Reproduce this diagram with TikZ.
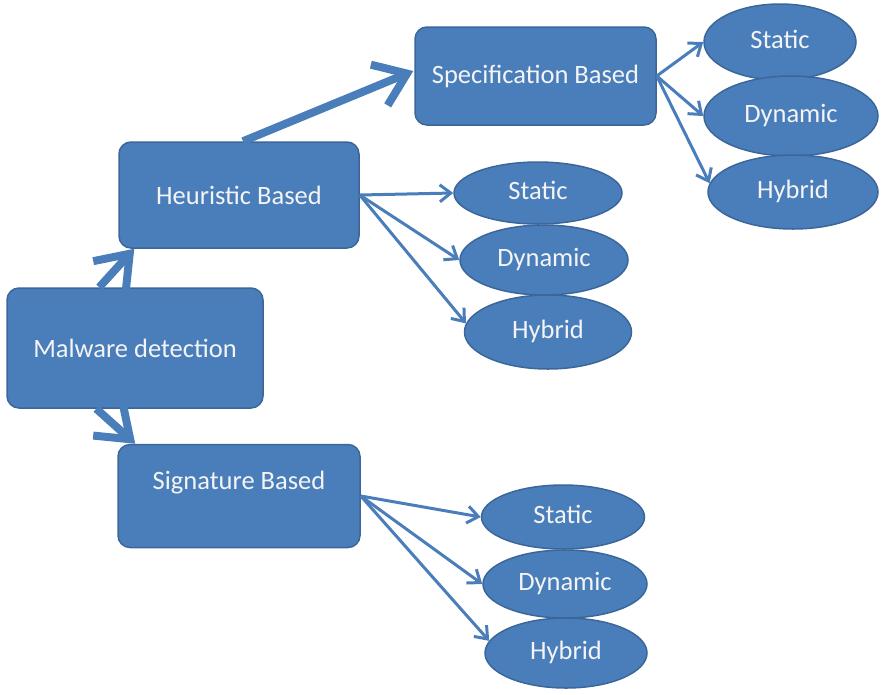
\documentclass[tikz,border=0pt]{standalone}
\usepackage{fontspec}
\setmainfont{Carlito}
\usetikzlibrary{arrows.meta,shapes.geometric,calc}
\definecolor{boxfill}{HTML}{4A7EBB}
\definecolor{boxline}{HTML}{3B6699}
\definecolor{linkblue}{HTML}{4A7EBB}
\definecolor{labeltext}{HTML}{F4F4F4}
\begin{document}
\begin{tikzpicture}[x=1pt,y=-1pt,
  labelfont/.style={font=\fontsize{26.5}{30}\selectfont, text=labeltext},
  box/.style={labelfont, draw=boxline, line width=1.5pt, fill=boxfill,
    rounded corners=12pt, inner sep=0pt},
  oval/.style={labelfont, ellipse, draw=boxline, line width=1.5pt, fill=boxfill,
    inner sep=0pt, text height=18pt, text depth=5pt},
  bigarrow/.style={draw=linkblue, line width=8pt,
    -{Straight Barb[length=30pt,width=44pt]}},
  smallarrow/.style={draw=linkblue, line width=3pt,
    -{Straight Barb[length=11pt,width=17pt]}},
]
\useasboundingbox (0,0) rectangle (882,694);

% main boxes
\node[box, minimum width=256pt, minimum height=120pt] (mal) at (135,348) {Malware detection};
\node[box, minimum width=240pt, minimum height=106pt] (heu) at (239,195) {Heuristic Based};
\node[box, minimum width=242pt, minimum height=103pt, text depth=31pt] (sig) at (239,496) {Signature Based};
\node[box, minimum width=241pt, minimum height=98pt] (spec) at (535.5,76) {Specification Based};

% specification based group
\node[oval, minimum width=152pt, minimum height=76pt] (spS) at (780,42) {Static};
\node[oval, minimum width=174pt, minimum height=80pt] (spD) at (791,116) {Dynamic};
\node[oval, minimum width=170pt, minimum height=74pt] (spH) at (793,192) {Hybrid};

% heuristic based group
\node[oval, minimum width=168pt, minimum height=62pt] (heS) at (538,193) {Static};
\node[oval, minimum width=168pt, minimum height=70pt] (heD) at (544,260) {Dynamic};
\node[oval, minimum width=167pt, minimum height=74pt] (heH) at (548,332) {Hybrid};

% signature based group
\node[oval, minimum width=163pt, minimum height=64pt] (siS) at (563,517) {Static};
\node[oval, minimum width=164pt, minimum height=68pt] (siD) at (565,584) {Dynamic};
\node[oval, minimum width=162pt, minimum height=70pt] (siH) at (566,653) {Hybrid};

% thick links between the boxes
\draw[bigarrow] ($(mal.north west)+(93,0)$) -- ($(heu.south west)+(16,0)$);
\draw[bigarrow] ($(mal.south west)+(90,0)$) -- ($(sig.north west)+(18,0)$);
\draw[bigarrow] ($(heu.north)+(4,0)$) -- ($(spec.west)+(-1,-5)$);

% thin links to the ovals
\draw[smallarrow] (spec.east) -- (spS.west);
\draw[smallarrow] (spec.east) -- (spD.west);
\draw[smallarrow] (spec.east) -- (spH.174);

\draw[smallarrow] (heu.east) -- (heS.west);
\draw[smallarrow] (heu.east) -- (heD.west);
\draw[smallarrow] (heu.east) -- (heH.174);

\draw[smallarrow] (sig.east) -- (siS.west);
\draw[smallarrow] (sig.east) -- (siD.west);
\draw[smallarrow] (sig.east) -- (siH.171);
\end{tikzpicture}
\end{document}
